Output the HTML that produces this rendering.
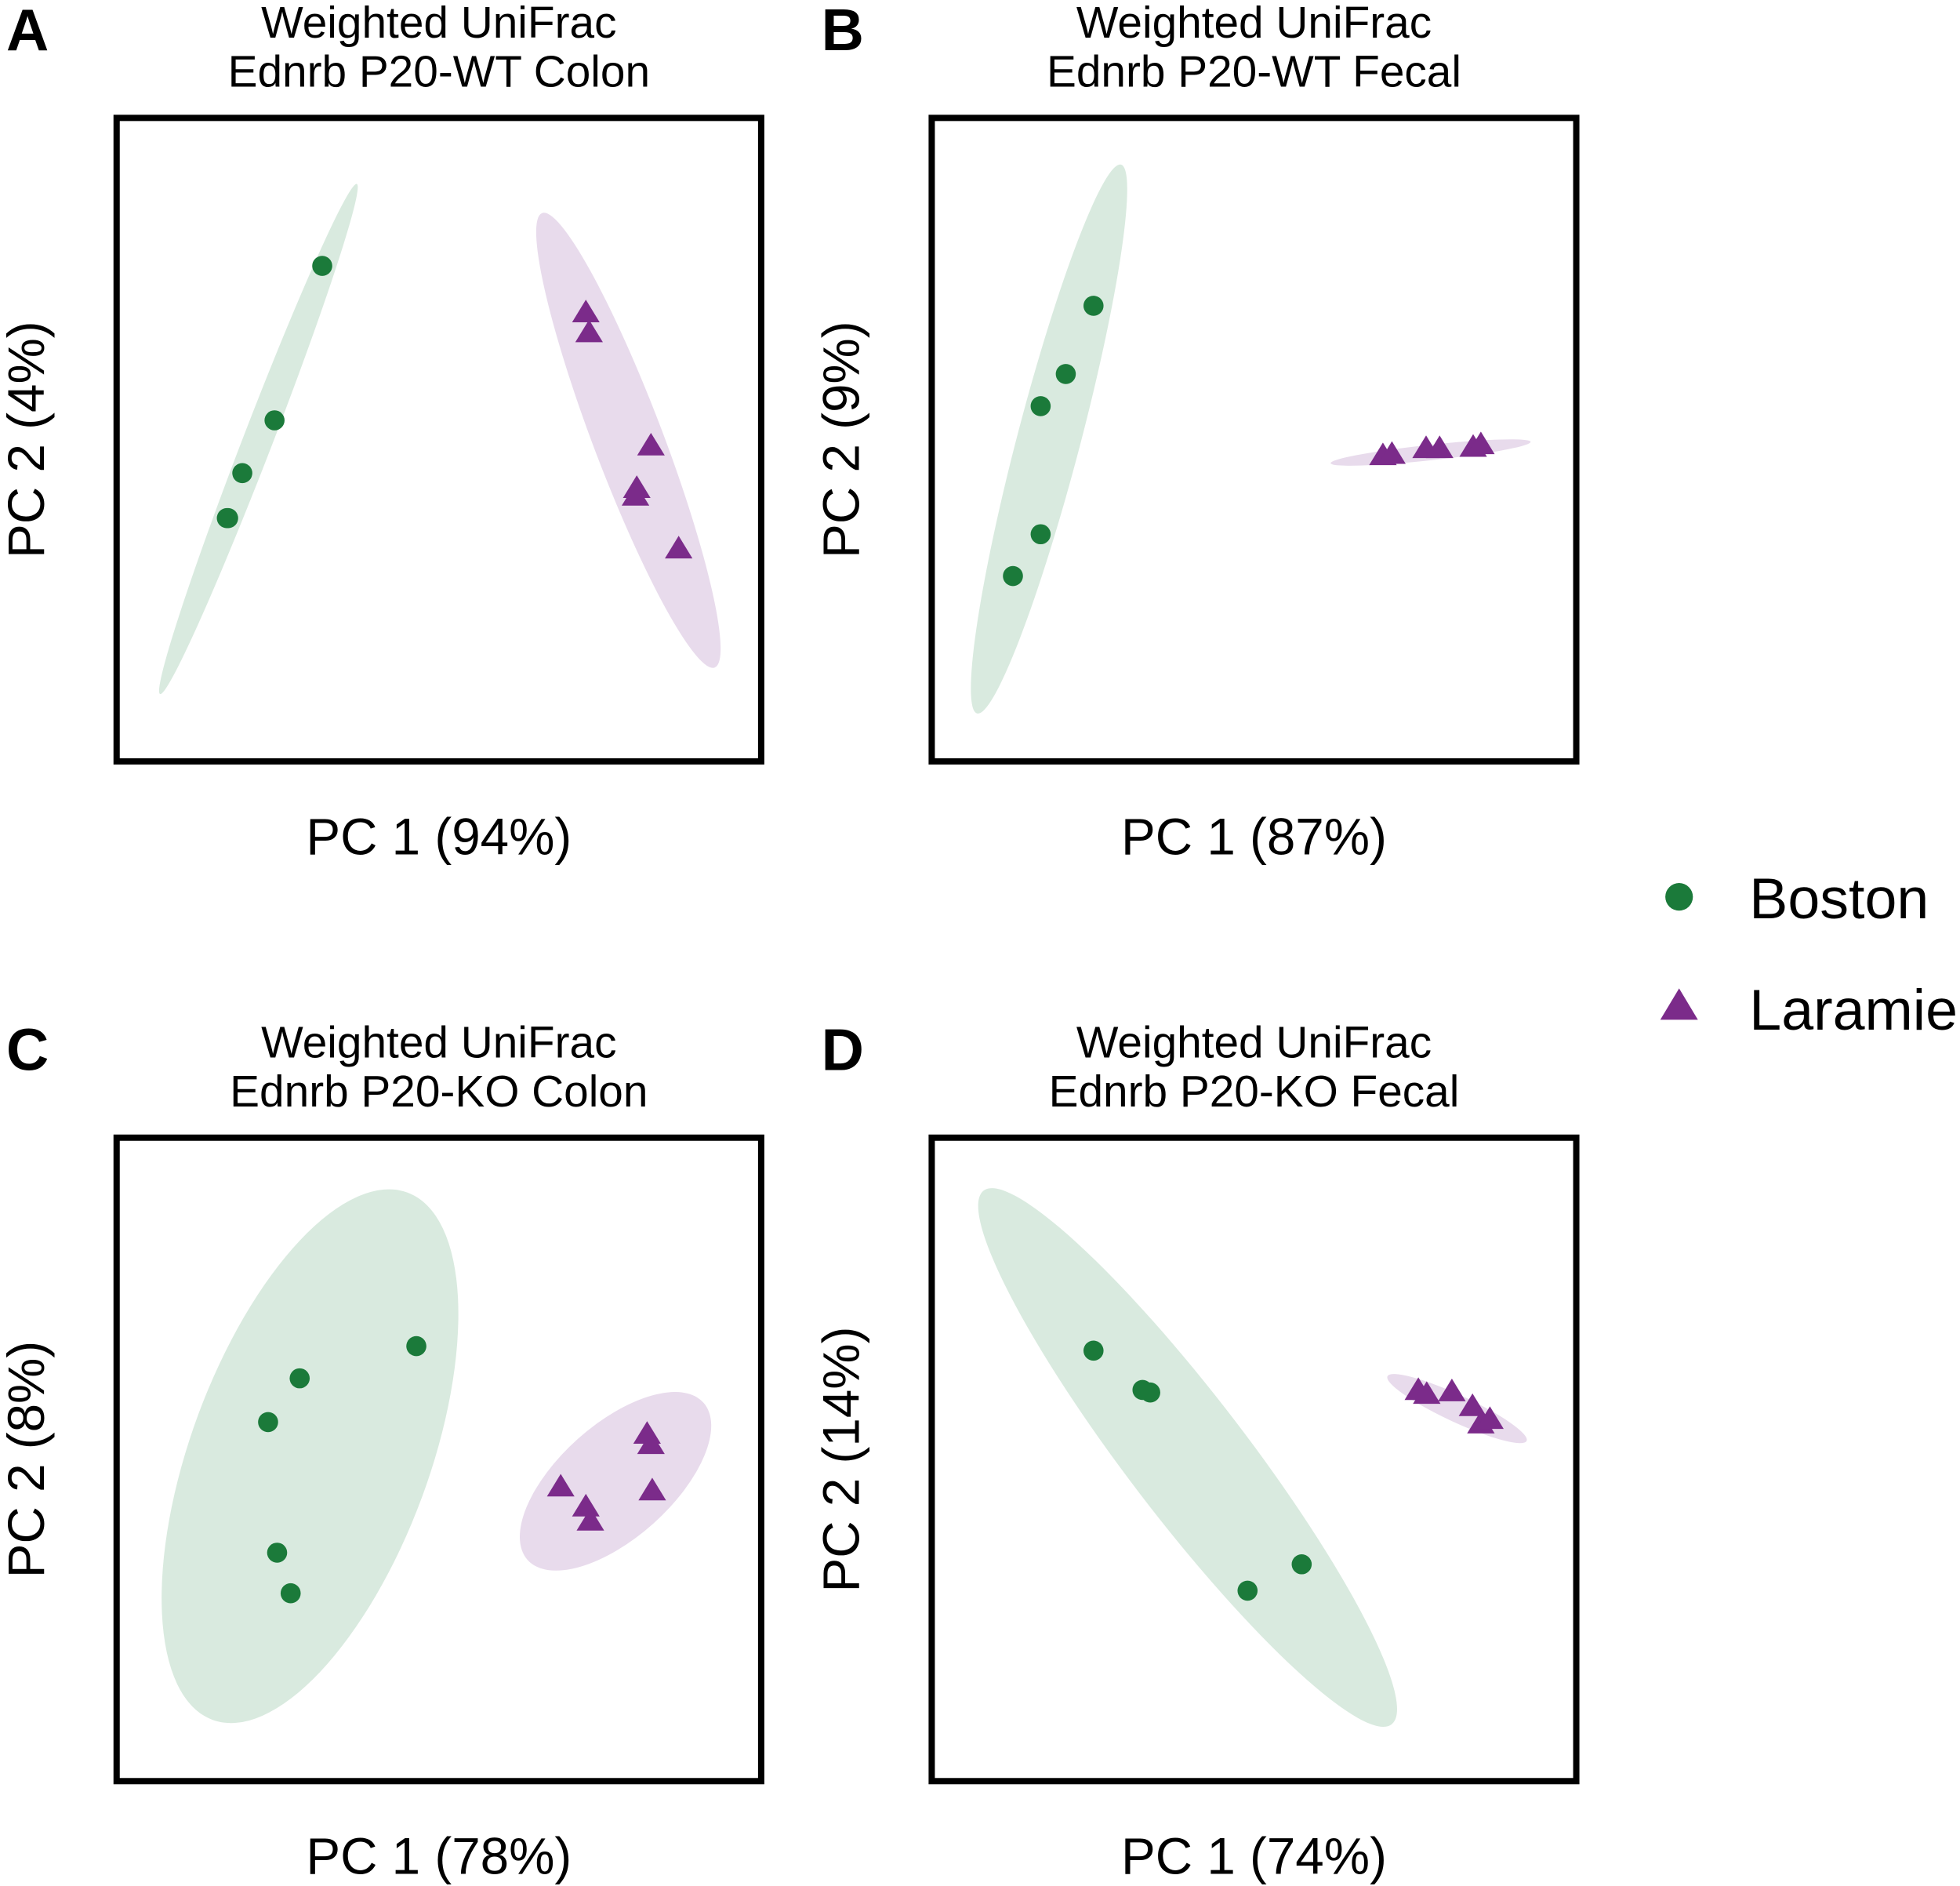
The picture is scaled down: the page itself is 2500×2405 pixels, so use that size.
<!DOCTYPE html>
<html><head><meta charset="utf-8"><style>
html,body{margin:0;padding:0;background:#fff;}
svg{display:block;font-family:"Liberation Sans",Arial,sans-serif;}
</style></head><body>
<svg id="fig" width="2500" height="2405" viewBox="0 0 1563 1503.6" preserveAspectRatio="none" xmlns="http://www.w3.org/2000/svg">
<g id="legend">
  <circle cx="1339" cy="715" r="11" fill="#1b7a3a"/>
  <text x="1395" y="732" font-size="46">Boston</text>
  <polygon points="1339,788 1354,813 1324,813" fill="#7b2b8a"/>
  <text x="1395" y="821" font-size="46">Laramie</text>
</g>
</svg>
<script>
// Panel letters / titles / axis labels
const panelLetters = ["A","B","C","D"];
const panelTissue = ["Ednrb P20-WT Colon","Ednrb P20-WT Fecal","Ednrb P20-KO Colon","Ednrb P20-KO Fecal"];
const xLabels = ["PC 1 (94%)","PC 1 (87%)","PC 1 (78%)","PC 1 (74%)"];
const yLabels = ["PC 2 (4%)","PC 2 (9%)","PC 2 (8%)","PC 2 (14%)"];
// Boston points (PC1, PC2) per panel
const bostonX = [[-18.1,-25.5,-30.5,-32.9,-32.7],[-24.9,-29.2,-33.1,-33.1,-37.4],[-3.5,-21.6,-26.5,-25.1,-23.0],[-24.9,-17.3,-16.1,-1.0,7.4]];
const bostonY = [[27.0,3.0,-5.2,-12.2,-12.2],[20.8,10.2,5.2,-14.7,-21.2],[17.6,12.6,5.8,-14.5,-20.8],[16.9,10.8,10.4,-20.4,-16.3]];
// Laramie points
const laramieX = [[22.8,23.3,32.9,30.7,30.5,37.2],[20.0,21.4,26.7,28.8,34.0,35.2],[32.3,32.9,18.9,22.8,23.5,33.1],[25.5,26.8,30.7,33.9,35.2,36.6]];
const laramieY = [[19.8,16.7,-0.9,-7.5,-8.7,-16.9],[-2.4,-2.2,-1.3,-1.3,-1.1,-0.7],[4.0,2.4,-4.2,-7.3,-9.5,-4.8],[10.8,10.2,10.6,8.3,5.6,6.3]];
// Confidence ellipses: center (data), semi-axes (data units), angle (deg)
const bostonEll = [[-28.0,0.1,42.4,2.3,-68.9],[-31.8,0.1,44.0,4.9,-75.3],[-20.0,0.5,43.6,18.5,-69.7],[-10.3,0.3,52.1,9.3,52.6]];
const laramieEll = [[29.4,-0.1,37.7,5.4,69.2],[27.4,-2.0,15.6,1.2,-6.1],[27.4,-3.4,18.3,8.8,-41.8],[31.5,7.9,11.9,2.1,24.9]];

const svg = document.getElementById('fig');
const NS = 'http://www.w3.org/2000/svg';
const panelPos = [[93,94],[743,94],[93,907],[743,907]];
const W = 514, H = 513;
function mk(tag, attrs){ const e=document.createElementNS(NS,tag); for(const k in attrs) e.setAttribute(k,attrs[k]); return e; }

for (let p=0;p<4;p++){
  const [L,T] = panelPos[p];
  const sx = v => L + (v+50)/100*W;
  const sy = v => T + (50-v)/100*H;
  const g = mk('g',{});
  
  
  svg.appendChild(g);
  const cx = L+W/2;
  const letter = mk('text',{x:L-88,y:T-54,'font-size':47,'font-weight':'bold'});
  
  
  letter.textContent = panelLetters[p]; g.appendChild(letter);
  const t1 = mk('text',{x:cx,y:T-64,'font-size':35.5,'text-anchor':'middle'});
  
  
  t1.textContent='Weighted UniFrac'; g.appendChild(t1);
  const t2 = mk('text',{x:cx,y:T-25,'font-size':35.5,'text-anchor':'middle'});
  
  
  t2.textContent=panelTissue[p]; g.appendChild(t2);
  const xl = mk('text',{x:cx,y:T+H+74,'font-size':41,'text-anchor':'middle'});
  
  
  xl.textContent=xLabels[p]; g.appendChild(xl);
  const yy = T+H/2;
  const yl = mk('text',{x:L-58,y:yy,'font-size':41,'text-anchor':'middle',transform:`rotate(-90 ${L-58} ${yy})`});
  
  
  yl.textContent=yLabels[p]; g.appendChild(yl);
  const ells = [[bostonEll[p],'#d9eadf','boston-ellipse'],[laramieEll[p],'#e8dbec','laramie-ellipse']];
  for (const [e,col,nm] of ells){
    const ecx=sx(e[0]), ecy=sy(e[1]);
    const el = mk('ellipse',{cx:ecx,cy:ecy,rx:e[2]/100*W,ry:e[3]/100*W,fill:col,transform:`rotate(${e[4]} ${ecx} ${ecy})`});
    
    
    g.appendChild(el);
  }
  for (let i=0;i<bostonX[p].length;i++){
    const c = mk('circle',{cx:sx(bostonX[p][i]),cy:sy(bostonY[p][i]),r:8,fill:'#1b7a3a'});
    
    
    g.appendChild(c);
  }
  for (let i=0;i<laramieX[p].length;i++){
    const x=sx(laramieX[p][i]), y=sy(laramieY[p][i]);
    const tr = mk('polygon',{points:`${x},${y-10} ${x+11},${y+8} ${x-11},${y+8}`,fill:'#7b2b8a'});
    
    
    g.appendChild(tr);
  }
  const box = mk('rect',{x:L,y:T,width:W,height:H,fill:'none',stroke:'#000','stroke-width':5});
  
  
  g.appendChild(box);
}
</script>
</body></html>
